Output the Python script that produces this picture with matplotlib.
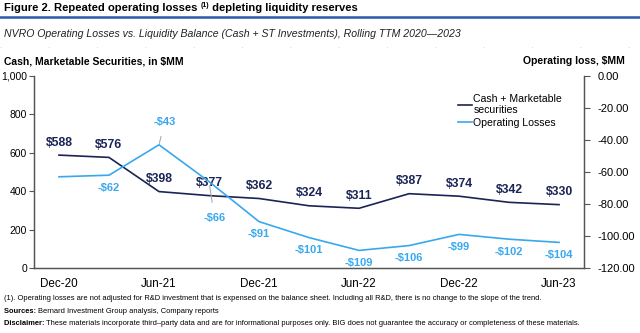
import matplotlib
matplotlib.use("Agg")
import matplotlib.pyplot as plt
from matplotlib.lines import Line2D
from matplotlib.ticker import FuncFormatter, MultipleLocator

plt.rcParams['font.family'] = ['Liberation Sans', 'DejaVu Sans']

# data (quarterly, rolling TTM)
quarters = ['Dec-20', 'Mar-21', 'Jun-21', 'Sep-21', 'Dec-21', 'Mar-22',
            'Jun-22', 'Sep-22', 'Dec-22', 'Mar-23', 'Jun-23']
cash = [588, 576, 398, 377, 362, 324, 311, 387, 374, 342, 330]
op_loss = [-63, -62, -43, -66, -91, -101, -109, -106, -99, -102, -104]
tick_labels = ['Dec-20', '', 'Jun-21', '', 'Dec-21', '', 'Jun-22', '',
               'Dec-22', '', 'Jun-23']

NAVY = '#1a2456'
LBLUE = '#38a8ee'
AXC = '#555555'

fig = plt.figure(figsize=(6.4, 3.33), dpi=100)
ax = fig.add_axes([0.0531, 0.1952, 0.8595, 0.5766])
ax2 = ax.twinx()

x = list(range(len(quarters)))
ax.plot(x, cash, color=NAVY, lw=1.2, zorder=3)
ax2.plot(x, op_loss, color=LBLUE, lw=1.2, zorder=3)

ax.set_xlim(-0.5, len(quarters) - 0.5)
ax.set_ylim(0, 1000)
ax2.set_ylim(-120, 0)
ax.yaxis.set_major_locator(MultipleLocator(200))
ax2.yaxis.set_major_locator(MultipleLocator(20))
ax.yaxis.set_major_formatter(FuncFormatter(lambda v, p: f'{v:,.0f}'))
ax2.yaxis.set_major_formatter(FuncFormatter(lambda v, p: f'{v:.2f}'))
ax.set_xticks(x)
ax.set_xticklabels(tick_labels, fontsize=8.4)
ax.tick_params(axis='x', length=0, pad=7, colors='black')
ax.tick_params(axis='y', length=3.5, width=0.8, color=AXC, labelsize=7.5, pad=1.5)
ax2.tick_params(axis='y', length=4, width=0.8, color=AXC, labelsize=8, pad=6)

for a in (ax, ax2):
    a.spines['top'].set_visible(False)
    for s in ('left', 'right', 'bottom'):
        a.spines[s].set_color(AXC)
        a.spines[s].set_linewidth(0.9)

# cash labels above points
for i, v in enumerate(cash):
    ax.annotate(f'${v}', (i, v), xytext=(0, 9), textcoords='offset points',
                ha='center', va='center', fontsize=8.8, fontweight='bold',
                color=NAVY, zorder=4)

# operating loss labels below points, two with leader lines
for i, v in enumerate(op_loss):
    if i == 0:
        continue
    if i == 2:
        ax2.annotate(f'-${-v}', (i, v), xytext=(4, 16.5), textcoords='offset points',
                     ha='center', va='center', fontsize=8, fontweight='bold',
                     color=LBLUE,
                     arrowprops=dict(arrowstyle='-', color='#aaaaaa', lw=0.8,
                                     shrinkA=5, shrinkB=1))
    elif i == 3:
        ax2.annotate(f'-${-v}', (i, v), xytext=(4, -26.5), textcoords='offset points',
                     ha='center', va='center', fontsize=8, fontweight='bold',
                     color=LBLUE,
                     arrowprops=dict(arrowstyle='-', color='#aaaaaa', lw=0.8,
                                     shrinkA=6, shrinkB=3))
    else:
        ax2.annotate(f'-${-v}', (i, v), xytext=(0, -9), textcoords='offset points',
                     ha='center', va='center', fontsize=8, fontweight='bold',
                     color=LBLUE)

handles = [Line2D([], [], color=NAVY, lw=1.2), Line2D([], [], color=LBLUE, lw=1.2)]
ax2.legend(handles, ['Cash + Marketable\nsecurities', 'Operating Losses'],
           loc='upper left', bbox_to_anchor=(0.763, 0.93), frameon=False,
           fontsize=7.6, handlelength=1.3, handletextpad=0.15, labelspacing=0.25,
           borderaxespad=0)

# header
fig.canvas.draw()
r = fig.canvas.get_renderer()
inv = fig.transFigure.inverted()


def run_text(parts, x0, y0, **kw):
    xx = x0
    for s, extra in parts:
        opts = {**kw, **extra}
        yy = opts.pop('y', y0)
        t = fig.text(xx, yy, s, **opts)
        bb = t.get_window_extent(renderer=r)
        xx = inv.transform((bb.x1, bb.y0))[0]
    return xx


title_y = 1 - 11 / 333
run_text([('Figure 2. Repeated operating losses ', {}),
          ('(1)', {'fontsize': 5, 'y': title_y + 0.012}),
          (' depleting liquidity reserves', {})],
         0.006, title_y, fontsize=8.1, fontweight='bold', color='black', va='baseline')

fig.add_artist(Line2D([0, 1], [1 - 16.5 / 333] * 2, transform=fig.transFigure,
                      color='#2d59ad', lw=1.8))
fig.text(0.006, 1 - 37 / 333,
         'NVRO Operating Losses vs. Liquidity Balance (Cash + ST Investments), Rolling TTM 2020\u20142023',
         fontsize=7.6, style='italic', color='#222222', va='baseline')
fig.add_artist(Line2D([0, 1], [1 - 47 / 333] * 2, transform=fig.transFigure,
                      color='#cccccc', lw=0.6, ls=(0, (1, 57))))
fig.text(0.006, 1 - 64 / 333, 'Cash, Marketable Securities, in $MM',
         fontsize=7.45, fontweight='bold', va='baseline')
fig.text(0.977, 1 - 64 / 333, 'Operating loss, $MM',
         fontsize=7.45, fontweight='bold', va='baseline', ha='right')

# footnotes
fig.text(0.006, 1 - 300 / 333,
         '(1). Operating losses are not adjusted for R&D investment that is expensed on the balance sheet. '
         'Including all R&D, there is no change to the slope of the trend.',
         fontsize=5.4, va='baseline')
run_text([('Sources: ', {'fontweight': 'bold'}),
          ('Bernard Investment Group analysis, Company reports', {})],
         0.006, 1 - 313 / 333, fontsize=5.45, va='baseline')
run_text([('Disclaimer: ', {'fontweight': 'bold'}),
          ('These materials incorporate third\u2013party data and are for informational purposes only. '
           'BIG does not guarantee the accuracy or completeness of these materials.', {})],
         0.006, 1 - 325 / 333, fontsize=5.45, va='baseline')

fig.savefig('out.png', dpi=100)
